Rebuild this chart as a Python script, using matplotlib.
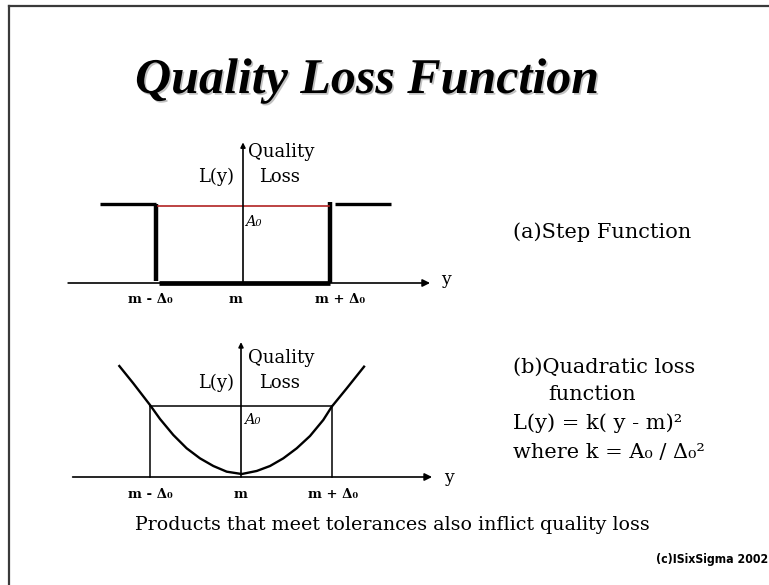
import matplotlib
matplotlib.use("Agg")
import matplotlib.pyplot as plt
import matplotlib.patheffects as pe
from matplotlib.lines import Line2D

W, H = 769, 585

# ---- data (units: x in multiples of Delta0 about m, y in multiples of A0) ----
tick_labels = ["m - Δ₀", "m", "m + Δ₀"]
tick_pos_top = [-1.07, -0.09, 1.11]
tick_pos_bottom = [-1.00, 0.0, 1.01]

# step function segments (a)
step_left_x = [-1.64, -1.0]
step_left_y = [1.0, 1.0]
step_vl_x = [-1.0, -1.0]
step_vl_y = [1.0, 0.03]
step_bottom_x = [-0.96, 1.0]
step_bottom_y = [0.0, 0.0]
step_vr_x = [1.0, 1.0]
step_vr_y = [0.0, 1.03]
step_right_x = [1.06, 1.70]
step_right_y = [1.0, 1.0]
red_x = [-0.98, 0.99]
red_y = [0.98, 0.98]

# quadratic loss curve (b)
quad_x = [-1.337, -1.184, -1.000, -0.890, -0.744, -0.597, -0.451, -0.304, -0.157,
          0.008, 0.173, 0.319, 0.465, 0.612, 0.758, 0.904, 0.997, 1.162, 1.352]
quad_y = [1.563, 1.320, 1.014, 0.817, 0.592, 0.404, 0.263, 0.155, 0.075,
          0.042, 0.085, 0.155, 0.263, 0.404, 0.577, 0.803, 0.990, 1.249, 1.554]
tol_x = [-1.0, 1.0]
tol_level = 1.0

fig = plt.figure(figsize=(W / 100, H / 100), dpi=100)
fig.patch.set_facecolor("white")

def fx(px):
    return px / W

def fy(py):
    return 1 - py / H

def make_axes(cx, cy, sx, sy, xlim, ylim):
    left = cx + xlim[0] * sx
    right = cx + xlim[1] * sx
    top = cy - ylim[1] * sy
    bottom = cy - ylim[0] * sy
    ax = fig.add_axes([fx(left), fy(bottom), (right - left) / W, (bottom - top) / H])
    ax.set_xlim(*xlim)
    ax.set_ylim(*ylim)
    ax.axis("off")
    return ax

serif = ["DejaVu Serif"]

# ---------- top panel ----------
ax1 = make_axes(243, 283, 87, 79, (-2.1, 2.4), (-0.5, 1.9))
ax1.annotate("", xy=(2.15, 0), xytext=(-2.01, 0),
             arrowprops=dict(arrowstyle="-|>", lw=1.2, color="black", mutation_scale=11,
                             shrinkA=0, shrinkB=0))
ax1.annotate("", xy=(0, 1.78), xytext=(0, 0),
             arrowprops=dict(arrowstyle="-|>", lw=1.2, color="black", mutation_scale=7,
                             shrinkA=0, shrinkB=0))
ax1.plot(step_left_x, step_left_y, color="black", lw=2.4, solid_capstyle="butt")
ax1.plot(step_right_x, step_right_y, color="black", lw=2.4, solid_capstyle="butt")
ax1.plot(step_vl_x, step_vl_y, color="black", lw=3.2, solid_capstyle="butt")
ax1.plot(step_vr_x, step_vr_y, color="black", lw=3.2, solid_capstyle="butt")
ax1.plot(step_bottom_x, step_bottom_y, color="black", lw=3.4, solid_capstyle="butt")
ax1.plot(red_x, red_y, color="#b22222", lw=1.2)
ax1.text(0.02, 0.77, "A₀", fontsize=10.5, family=serif, style="italic", ha="left", va="center")
for p, lab in zip(tick_pos_top, tick_labels):
    ax1.text(p, -0.215, lab, fontsize=9.5, family=serif, fontweight="bold", ha="center", va="center")
ax1.text(2.28, 0.04, "y", fontsize=12.5, family=serif, ha="left", va="center")

# ---------- bottom panel ----------
ax2 = make_axes(241, 477, 91, 71, (-2.1, 2.4), (-0.5, 2.0))
ax2.annotate("", xy=(2.10, 0), xytext=(-1.85, 0),
             arrowprops=dict(arrowstyle="-|>", lw=1.2, color="black", mutation_scale=11,
                             shrinkA=0, shrinkB=0))
ax2.annotate("", xy=(0, 1.90), xytext=(0, 0),
             arrowprops=dict(arrowstyle="-|>", lw=1.2, color="black", mutation_scale=7,
                             shrinkA=0, shrinkB=0))
ax2.plot(quad_x, quad_y, color="black", lw=1.7, solid_joinstyle="round")
ax2.plot(tol_x, [tol_level, tol_level], color="black", lw=1.1)
for xv in tol_x:
    ax2.plot([xv, xv], [0, tol_level], color="black", lw=1.1)
ax2.text(0.03, 0.80, "A₀", fontsize=10.5, family=serif, style="italic", ha="left", va="center")
for p, lab in zip(tick_pos_bottom, tick_labels):
    ax2.text(p, -0.24, lab, fontsize=9.5, family=serif, fontweight="bold", ha="center", va="center")
ax2.text(2.23, 0.0, "y", fontsize=12.5, family=serif, ha="left", va="center")

# axis labels
for base in (0, 206):
    fig.text(fx(248), fy(152 + base), "Quality", fontsize=13, family=serif, ha="left", va="center")
    fig.text(fx(259), fy(177 + base), "Loss", fontsize=13, family=serif, ha="left", va="center")
    fig.text(fx(234), fy(177 + base), "L(y)", fontsize=13, family=serif, ha="right", va="center")

# title
fig.text(fx(367), fy(81), "Quality Loss Function", fontsize=36, family=["Liberation Serif"],
         fontweight="bold", style="italic", ha="center", va="center",
         path_effects=[pe.withSimplePatchShadow(offset=(1.2, -1.2), shadow_rgbFace="0.6", alpha=0.6)])

# right-side descriptions
desc_fs = 15
fig.text(fx(513), fy(232), "(a)Step Function", fontsize=desc_fs, family=serif, ha="left", va="center")
fig.text(fx(513), fy(367), "(b)Quadratic loss", fontsize=desc_fs, family=serif, ha="left", va="center")
fig.text(fx(548), fy(395), "function", fontsize=desc_fs, family=serif, ha="left", va="center")
fig.text(fx(513), fy(423), "L(y) = k( y - m)²", fontsize=desc_fs, family=serif, ha="left", va="center")
fig.text(fx(513), fy(452), "where k = A₀ / Δ₀²", fontsize=desc_fs, family=serif, ha="left", va="center")

fig.text(fx(392), fy(525), "Products that meet tolerances also inflict quality loss",
         fontsize=13.7, family=serif, ha="center", va="center")
fig.text(fx(768), fy(560), "(c)ISixSigma 2002", fontsize=8.8,
         family=["DejaVu Sans"], fontweight="bold", stretch="condensed",
         ha="right", va="center")

# frame
fig.add_artist(Line2D([fx(9), fx(9)], [fy(6), 0], color="#3a3a3a", lw=1.6, transform=fig.transFigure))
fig.add_artist(Line2D([fx(9), 1], [fy(6), fy(6)], color="#3a3a3a", lw=1.6, transform=fig.transFigure))

fig.savefig("out.png", dpi=100)
